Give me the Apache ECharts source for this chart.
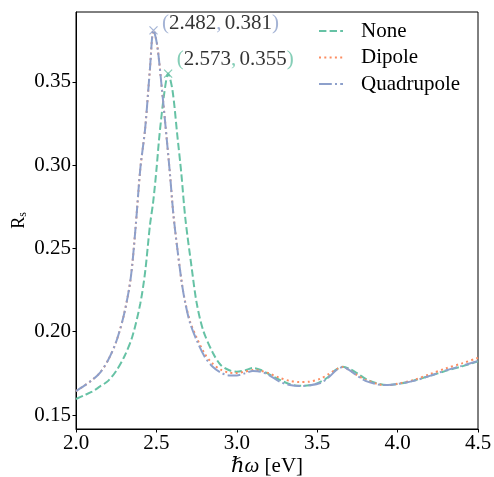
<!DOCTYPE html>
<html>
<head>
<meta charset="utf-8">
<script src="https://cdn.jsdelivr.net/npm/echarts@6/dist/echarts.min.js"></script>
<style>html,body{margin:0;padding:0;background:#fff}#c{width:494px;height:477px}</style>
</head>
<body>
<div id="c"></div>
<script>
// ---- data ----
const seriesNames = ['None', 'Dipole', 'Quadrupole'];
const xNone = [2.0,2.05,2.1,2.15,2.2,2.25,2.3,2.35,2.4,2.43,2.46,2.48,2.5,2.52,2.55,2.573,2.6,2.63,2.655,2.68,2.72,2.75,2.79,2.85,2.9,2.95,3.0,3.05,3.1,3.15,3.2,3.27,3.33,3.39,3.45,3.5,3.56,3.6,3.63,3.66,3.7,3.75,3.81,3.88,3.93,4.0,4.1,4.2,4.3,4.4,4.5];
const yNone = [0.1596,0.1618,0.1640,0.1672,0.1705,0.1765,0.1850,0.1970,0.2170,0.2360,0.2640,0.2780,0.2970,0.3190,0.3440,0.3550,0.3450,0.3180,0.2950,0.2680,0.2380,0.2175,0.2011,0.1875,0.1800,0.1770,0.1760,0.1768,0.1782,0.1770,0.1745,0.1710,0.1685,0.1676,0.1678,0.1690,0.1722,0.1760,0.1780,0.1790,0.1778,0.1750,0.1712,0.1688,0.1680,0.1686,0.1707,0.1735,0.1765,0.1792,0.1822];
const xDipole = [2.0,2.05,2.1,2.15,2.2,2.25,2.3,2.34,2.37,2.4,2.43,2.46,2.482,2.505,2.535,2.565,2.585,2.605,2.63,2.66,2.68,2.71,2.75,2.8,2.85,2.9,2.95,3.0,3.05,3.1,3.15,3.2,3.27,3.33,3.39,3.45,3.52,3.57,3.62,3.66,3.7,3.75,3.8,3.88,3.94,4.0,4.1,4.2,4.3,4.4,4.5];
const yDipole = [0.1644,0.1675,0.1710,0.1755,0.1830,0.1940,0.2110,0.2320,0.2620,0.2980,0.3220,0.3580,0.3810,0.3720,0.3450,0.3150,0.2940,0.2710,0.2500,0.2280,0.2175,0.2060,0.1965,0.1868,0.1808,0.1772,0.1755,0.1752,0.1760,0.1770,0.1765,0.1750,0.1722,0.1705,0.1698,0.1700,0.1718,0.1745,0.1775,0.1788,0.1770,0.1738,0.1712,0.1685,0.1680,0.1688,0.1710,0.1745,0.1780,0.1810,0.1843];
const xQuad = [2.0,2.05,2.1,2.15,2.2,2.25,2.3,2.34,2.37,2.4,2.43,2.46,2.482,2.505,2.535,2.565,2.585,2.605,2.63,2.66,2.68,2.71,2.75,2.8,2.85,2.9,2.95,3.0,3.05,3.1,3.15,3.2,3.27,3.33,3.39,3.45,3.52,3.57,3.62,3.66,3.7,3.75,3.8,3.88,3.94,4.0,4.1,4.2,4.3,4.4,4.5];
const yQuad = [0.1644,0.1675,0.1710,0.1755,0.1830,0.1940,0.2110,0.2320,0.2620,0.2980,0.3220,0.3580,0.3810,0.3720,0.3450,0.3150,0.2940,0.2710,0.2500,0.2280,0.2170,0.2050,0.1950,0.1850,0.1790,0.1755,0.1738,0.1738,0.1750,0.1765,0.1760,0.1740,0.1698,0.1680,0.1674,0.1678,0.1692,0.1725,0.1770,0.1788,0.1770,0.1735,0.1705,0.1683,0.1680,0.1686,0.1705,0.1735,0.1768,0.1795,0.1825];
const peakX = [2.482, 2.573];
const peakY = [0.381, 0.355];
const yTicks = [0.15, 0.20, 0.25, 0.30, 0.35];

const colors = ['#66c2a5', '#fc8d62', '#8da0cb'];
const FONT = '"Liberation Serif", "DejaVu Serif", serif';
const zip = (xs, ys) => xs.map((x, i) => [x, ys[i]]);

const chart = echarts.init(document.getElementById('c'), null, {renderer: 'canvas'});

function lineSeries(name, xs, ys, color, dash) {
  return {
    name: name, type: 'line', data: zip(xs, ys), symbol: 'none', smooth: 0.3,
    lineStyle: {color: color, width: 2, type: dash, cap: 'butt'},
    itemStyle: {color: color}, z: 3
  };
}
function peakLabel(color) {
  return {
    p: {color: color, fontFamily: FONT, fontSize: 21},
    n: {color: '#000', fontFamily: FONT, fontSize: 21}
  };
}
const peakPoints = [
  {value: [peakX[0], peakY[0]], itemStyle: {borderColor: colors[2]},
   label: {offset: [-1, -7], rich: peakLabel(colors[2])}},
  {value: [peakX[1], peakY[1]], itemStyle: {borderColor: colors[0]},
   label: {offset: [-1, -14], rich: peakLabel(colors[0])}}
];

chart.setOption({
  animation: false,
  backgroundColor: '#fff',
  grid: {left: 76, right: 16, top: 12, bottom: 48, show: true, borderColor: '#000', borderWidth: 1,
    backgroundColor: 'transparent', containLabel: false, outerBoundsMode: 'none'},
  legend: {
    data: seriesNames, orient: 'vertical', left: 318, top: 20, padding: 0,
    itemWidth: 24, itemHeight: 14, itemGap: 4.5,
    itemStyle: {opacity: 0},
    textStyle: {fontFamily: FONT, fontSize: 21, color: '#000', lineHeight: 22, padding: [0, 0, 0, 13]}
  },
  xAxis: {
    type: 'value', min: 2.0, max: 4.5, interval: 0.5,
    axisLine: {show: true, lineStyle: {color: '#000', width: 1}},
    axisTick: {show: true, length: 3.5, lineStyle: {color: '#000'}},
    axisLabel: {color: '#000', fontFamily: FONT, fontSize: 21, margin: 4, formatter: v => v.toFixed(1)},
    splitLine: {show: false},
    name: '{i|ℏω} [eV]', nameLocation: 'middle', nameGap: 27, nameMoveOverlap: false,
    nameTextStyle: {color: '#000', fontFamily: FONT, fontSize: 21, lineHeight: 20, padding: [0, 20, 0, 0],
      rich: {i: {fontStyle: 'italic', fontFamily: FONT, fontSize: 21, color: '#000', lineHeight: 20}}}
  },
  yAxis: {
    type: 'value', min: 0.1416, max: 0.392,
    axisLine: {show: true, lineStyle: {color: '#000', width: 1}},
    axisTick: {show: true, length: 3.5, customValues: yTicks, lineStyle: {color: '#000'}},
    axisLabel: {color: '#000', fontFamily: FONT, fontSize: 21, margin: 5, customValues: yTicks, formatter: v => v.toFixed(2)},
    splitLine: {show: false},
    name: '{r|R}{s|s}', nameLocation: 'middle', nameRotate: 90, nameGap: 47, nameMoveOverlap: false,
    nameTextStyle: {rich: {
      r: {fontFamily: FONT, fontSize: 18, color: '#000', lineHeight: 20},
      s: {fontFamily: FONT, fontSize: 12, color: '#000', verticalAlign: 'bottom', lineHeight: 14}
    }}
  },
  series: [
    lineSeries(seriesNames[0], xNone, yNone, colors[0], [7.4, 3.2]),
    lineSeries(seriesNames[1], xDipole, yDipole, colors[1], [2, 3.3]),
    lineSeries(seriesNames[2], xQuad, yQuad, colors[2], [12.8, 3.2, 2, 3.2]),
    {
      name: 'peaks', type: 'scatter', z: 5,
      symbol: 'path://M0,0L10,10M10,0L0,10', symbolSize: 8,
      itemStyle: {color: 'none', borderWidth: 1.2},
      label: {show: true, position: 'right', distance: 3,
        formatter: p => '{p|(}{n|' + p.value[0].toFixed(3) + '}{p|,} {n|' + p.value[1].toFixed(3) + '}{p|)}'},
      data: peakPoints
    }
  ]
});
</script>
</body>
</html>
